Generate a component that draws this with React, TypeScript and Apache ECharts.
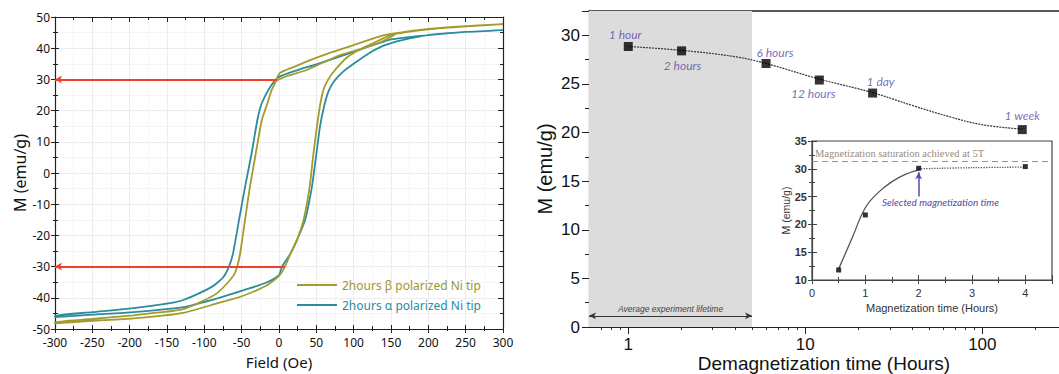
import { useEffect, useRef } from 'react';
import * as echarts from 'echarts';

// ---------- Left panel: hysteresis loops (Field Oe, M emu/g) ----------
const alphaName = '2hours \u03b1 polarized Ni tip';
const betaName = '2hours \u03b2 polarized Ni tip';

const tealDown: number[][] = [
  [300, 45.8], [250, 45.2], [200, 44.2], [150, 42.8], [100, 38.8], [50, 34.8], [25, 33], [0, 30.8],
  [-10, 28.2], [-20, 24], [-25, 21], [-29, 17], [-36.6, 6.4], [-45.5, -4.5], [-53.5, -15], [-61.5, -25.7],
  [-67, -30], [-75, -33.5], [-90, -36.5], [-128, -40.7], [-146, -41.7], [-195, -43.3], [-250, -44.6], [-300, -45.8],
];
const tealUp: number[][] = [
  [-300, -46.2], [-250, -45.4], [-195, -44.6], [-128, -43], [-80, -40], [-40, -37], [-16, -35], [0, -32.7], [4, -30],
  [15, -26], [24, -21.5], [35, -15], [44, -4.5], [50, 6], [55, 15], [60, 21], [66, 26], [74, 29.5],
  [86, 32.5], [100, 35], [120, 38.3], [140, 40.8], [165, 42.6], [200, 44.2], [250, 45.2], [300, 45.8],
];
const oliveDown: number[][] = [
  [300, 47.7], [250, 47.1], [200, 46.2], [150, 44.6], [135, 43.8], [100, 41], [68, 38.5], [40, 36],
  [20, 34], [1, 32], [-5, 29], [-10, 26.5], [-16, 22], [-23, 17], [-31, 6.4], [-39, -4.5], [-45.5, -15],
  [-52, -25.7], [-56, -30], [-60, -32.5], [-70, -35.5], [-83, -38.5], [-100, -40.8], [-128, -43.6],
  [-160, -44.7], [-195, -45.6], [-250, -46.8], [-300, -47.8],
];
const oliveUp: number[][] = [
  [-300, -48.2], [-250, -47.4], [-195, -46.6], [-128, -44.8], [-83, -41.8], [-50, -39.5], [-16, -36],
  [0, -33], [8, -30], [15, -26], [24, -21.5], [33, -15], [41, -4.5], [46, 6], [52, 17], [56, 23], [60, 27],
  [66, 30], [75, 33], [91, 37], [110, 39.8], [126, 41.6], [150, 44.2], [200, 46], [250, 47], [300, 47.7],
];
const oliveExtra: number[][] = [
  [-4, 29.5], [10, 31], [37, 33], [60, 35.5], [82, 37.8], [110, 39.8], [135, 41.8], [155, 44.3],
];
const remanenceM = [30, -30];
const remanenceEndField = [-3, 8];
const fieldMin = -300;
const fieldMax = 300;

// ---------- Right panel: demagnetization ----------
const demagHours = [1, 2, 6, 12, 24, 168];
const demagM = [28.85, 28.4, 27.1, 25.4, 24.06, 20.3];
const demagLabels = ['1 hour', '2 hours', '6 hours', '12 hours', '1 day', '1 week'];
const demagFitHours = [1, 2, 4, 6, 12, 24, 40, 66, 100, 168];
const demagFitM = [28.85, 28.45, 27.8, 27.1, 25.5, 24.1, 22.8, 21.6, 20.8, 20.35];
const demagTicks = [1, 10, 100];
const demagMinorTicks = [0.7, 0.8, 0.9, 2, 3, 4, 5, 6, 7, 8, 9, 20, 30, 40, 50, 60, 70, 80, 90, 200];
const lifetimeStart = 0.6;
const lifetimeEnd = 5;
const lifetimeM = 1.15;
const lifetimeText = 'Average experiment lifetime';

// ---------- Inset: magnetization ----------
const magHours = [0.5, 1, 2, 4];
const magM = [11.8, 21.7, 30.1, 30.4];
const magFitHours = [0.5, 0.75, 1, 1.25, 1.5, 1.75, 2];
const magFitM = [12, 17.5, 23, 25.8, 27.7, 29, 29.8];
const magPlateauHours = [2, 3, 4];
const magPlateauM = [30, 30.2, 30.3];
const saturationM = 31.3;
const saturationText = 'Magnetization saturation achieved at 5T';
const selectedTime = 2;
const selectedArrowM = [25, 29.4];
const selectedText = 'Selected magnetization time';

// label placement (style only)
const labelPlacement: any[] = [
  { position: 'top', offset: [-3, 3] },
  { position: 'bottom', offset: [1, 0] },
  { position: 'top', offset: [9, 3] },
  { position: 'bottom', offset: [-6, -1] },
  { position: 'top', offset: [8, 3] },
  { position: 'top', offset: [0, 0] },
];

const TEAL = '#2b8c9e';
const OLIVE = '#a39b2b';
const RED = '#f0402a';
const PURPLE = '#5a46a6';

const zip = (a: number[], b: number[]) => a.map((v, i) => [v, b[i]]);

export default function App() {
  const ref = useRef<HTMLDivElement>(null);
  useEffect(() => {
    document.body.style.margin = '0';
    const chart = echarts.init(ref.current!, undefined, { renderer: 'svg' });
    const leftFont = { fontFamily: 'Noto Sans', color: '#111' };
    const arial = { fontFamily: 'Liberation Sans', color: '#111' };
    const axisLine = { show: true, onZero: false, lineStyle: { color: '#222', width: 1.2 } };
    const noLine = { show: false, onZero: false };
    const gb = { outerBoundsMode: 'none', containLabel: false };
    const g0 = { ...gb, left: 55, top: 17, width: 448, height: 312 };
    const g2 = { ...gb, left: 589, top: 11, right: 0, bottom: 47 };
    const g4 = { ...gb, left: 812, top: 141, width: 240, height: 139 };

    const option: any = {
      animation: false,
      backgroundColor: '#fff',
      grid: [
        { ...g0 },
        { ...g0 },
        { ...g2 },
        { ...g2 },
        { ...g4, show: true, backgroundColor: '#fff', borderColor: '#444', borderWidth: 1.2 },
        { ...g4 },
      ],
      legend: {
        left: 297, top: 279, orient: 'vertical', itemGap: 8, itemWidth: 40, itemHeight: 2, icon: 'rect', padding: 0,
        data: [
          { name: betaName, textStyle: { color: '#9c962a' } },
          { name: alphaName, textStyle: { color: TEAL } },
        ],
        textStyle: { fontFamily: 'Noto Sans', fontSize: 12 },
      },
      xAxis: [
        {
          gridIndex: 0, type: 'value', position: 'bottom', min: fieldMin, max: fieldMax, interval: 50,
          name: 'Field (Oe)', nameLocation: 'middle', nameGap: 25, nameMoveOverlap: false,
          nameTextStyle: { ...leftFont, fontSize: 15 },
          axisLine, axisTick: { show: true, length: 4, inside: false, lineStyle: { color: '#222' } },
          minorTick: { show: true, splitNumber: 2, length: 2, lineStyle: { color: '#222' } },
          axisLabel: { ...leftFont, fontSize: 12, margin: 7, lineHeight: 13 },
          splitLine: { show: true, lineStyle: { color: '#ececec' } },
          minorSplitLine: { show: true, lineStyle: { color: '#f5f5f5' } },
        },
        {
          gridIndex: 0, type: 'value', position: 'top', min: fieldMin, max: fieldMax, interval: 50,
          axisLine, axisTick: { show: true, inside: true, length: 5, lineStyle: { color: '#222' } },
          minorTick: { show: true, splitNumber: 2, length: 3, lineStyle: { color: '#222' } },
          axisLabel: { show: false }, splitLine: { show: false },
        },
        {
          gridIndex: 1, type: 'value', position: 'bottom', min: fieldMin, max: fieldMax, interval: 50,
          axisLine: noLine, axisTick: { show: true, inside: true, length: 4, lineStyle: { color: '#222' } },
          minorTick: { show: true, splitNumber: 2, length: 3, lineStyle: { color: '#222' } },
          axisLabel: { show: false }, splitLine: { show: false },
        },
        {
          gridIndex: 2, type: 'log', position: 'bottom', min: lifetimeStart, max: 271,
          name: 'Demagnetization time (Hours)', nameLocation: 'middle', nameGap: 27, nameMoveOverlap: false,
          nameTextStyle: { ...arial, fontSize: 19 },
          axisLine, axisTick: { show: true, length: 7, customValues: demagTicks, lineStyle: { color: '#222' } },
          axisLabel: { ...arial, fontSize: 17, margin: 9, customValues: demagTicks },
          splitLine: { show: false },
        },
        {
          gridIndex: 2, type: 'log', position: 'top', min: lifetimeStart, max: 271,
          axisLine: { show: true, onZero: false, lineStyle: { color: '#222', width: 1.5 } },
          axisTick: { show: false }, axisLabel: { show: false }, splitLine: { show: false },
        },
        {
          gridIndex: 3, type: 'log', position: 'bottom', min: lifetimeStart, max: 271,
          axisLine: noLine,
          axisTick: { show: true, length: 3, customValues: demagMinorTicks, lineStyle: { color: '#333' } },
          axisLabel: { show: false }, splitLine: { show: false },
        },
        {
          gridIndex: 4, type: 'value', position: 'bottom', min: 0, max: 4.5, interval: 1,
          name: 'Magnetization time (Hours)', nameLocation: 'middle', nameGap: 22, nameMoveOverlap: false,
          nameTextStyle: { ...arial, fontSize: 11, color: '#333' },
          axisLine: { show: true, onZero: false, lineStyle: { color: '#444', width: 1.2 } },
          axisTick: { show: true, length: 4, lineStyle: { color: '#444' } },
          minorTick: { show: true, splitNumber: 2, length: 3, lineStyle: { color: '#444' } },
          axisLabel: { ...arial, fontSize: 11, color: '#333', margin: 7,
            formatter: (v: number) => (Number.isInteger(v) ? String(v) : '') },
          splitLine: { show: false },
        },
        {
          gridIndex: 5, type: 'value', position: 'bottom', min: 0, max: 4.5, interval: 1,
          axisLine: noLine,
          axisTick: { show: true, inside: true, length: 5, lineStyle: { color: '#444' } },
          minorTick: { show: true, splitNumber: 2, length: 3, lineStyle: { color: '#444' } },
          axisLabel: { show: false }, splitLine: { show: false },
        },
      ],
      yAxis: [
        {
          gridIndex: 0, type: 'value', position: 'left', min: -50, max: 50, interval: 10,
          name: 'M (emu/g)', nameLocation: 'middle', nameGap: 27, nameMoveOverlap: false,
          nameTextStyle: { ...leftFont, fontSize: 16 },
          axisLine, axisTick: { show: true, length: 4, lineStyle: { color: '#222' } },
          minorTick: { show: true, splitNumber: 2, length: 2, lineStyle: { color: '#222' } },
          axisLabel: { ...leftFont, fontSize: 12, margin: 5, lineHeight: 12 },
          splitLine: { show: true, lineStyle: { color: '#ececec' } },
          minorSplitLine: { show: true, lineStyle: { color: '#f5f5f5' } },
        },
        {
          gridIndex: 0, type: 'value', position: 'right', min: -50, max: 50, interval: 10,
          axisLine, axisTick: { show: true, inside: true, length: 5, lineStyle: { color: '#222' } },
          minorTick: { show: true, splitNumber: 2, length: 3, lineStyle: { color: '#222' } },
          axisLabel: { show: false }, splitLine: { show: false },
        },
        {
          gridIndex: 1, type: 'value', position: 'left', min: -50, max: 50, interval: 10,
          axisLine: noLine, axisTick: { show: true, inside: true, length: 4, lineStyle: { color: '#222' } },
          minorTick: { show: true, splitNumber: 2, length: 3, lineStyle: { color: '#222' } },
          axisLabel: { show: false }, splitLine: { show: false },
        },
        {
          gridIndex: 2, type: 'value', position: 'left', min: 0, max: 32.5, interval: 5,
          name: 'M (emu/g)', nameLocation: 'middle', nameGap: 34, nameMoveOverlap: false,
          nameTextStyle: { ...arial, fontSize: 20 },
          axisLine, axisTick: { show: true, length: 7, lineStyle: { color: '#222' } },
          minorTick: { show: true, splitNumber: 2, length: 4, lineStyle: { color: '#222' } },
          axisLabel: { ...arial, fontSize: 17, margin: 9,
            formatter: (v: number) => (v % 5 === 0 ? String(v) : '') },
          splitLine: { show: false },
        },
        {
          gridIndex: 3, type: 'value', position: 'left', min: 0, max: 32.5, interval: 5,
          axisLine: noLine, axisTick: { show: true, inside: true, length: 5, lineStyle: { color: '#222' } },
          minorTick: { show: true, splitNumber: 2, length: 4, lineStyle: { color: '#222' } },
          axisLabel: { show: false }, splitLine: { show: false },
        },
        {
          gridIndex: 4, type: 'value', position: 'left', min: 10, max: 35, interval: 5,
          name: 'M (emu/g)', nameLocation: 'middle', nameGap: 21, nameMoveOverlap: false,
          nameTextStyle: { ...arial, fontSize: 10.5, color: '#333' },
          axisLine: { show: true, onZero: false, lineStyle: { color: '#444', width: 1.2 } },
          axisTick: { show: true, length: 4, lineStyle: { color: '#444' } },
          minorTick: { show: true, splitNumber: 2, length: 3, lineStyle: { color: '#444' } },
          axisLabel: { ...arial, fontSize: 11, color: '#333', fontWeight: 'bold', margin: 5 },
          splitLine: { show: false },
        },
        {
          gridIndex: 5, type: 'value', position: 'left', min: 10, max: 35, interval: 5,
          axisLine: noLine, axisTick: { show: true, inside: true, length: 5, lineStyle: { color: '#444' } },
          minorTick: { show: true, splitNumber: 2, length: 3, lineStyle: { color: '#444' } },
          axisLabel: { show: false }, splitLine: { show: false },
        },
      ],
      series: [
        {
          name: alphaName, type: 'line', xAxisIndex: 0, yAxisIndex: 0, data: tealDown.concat(tealUp),
          symbol: 'none', smooth: 0.2, color: TEAL, lineStyle: { color: TEAL, width: 1.8 }, z: 3,
          markLine: {
            silent: true, symbol: ['arrow', 'none'], symbolSize: [6, 7],
            lineStyle: { color: RED, width: 2, type: 'solid' }, label: { show: false },
            data: remanenceM.map((m, i) => [{ coord: [fieldMin, m] }, { coord: [remanenceEndField[i], m] }]),
          },
        },
        {
          name: betaName, type: 'line', xAxisIndex: 0, yAxisIndex: 0, data: oliveDown.concat(oliveUp),
          symbol: 'none', smooth: 0.2, color: OLIVE, lineStyle: { color: OLIVE, width: 1.8 }, z: 4,
        },
        {
          name: 'beta-extra', type: 'line', xAxisIndex: 0, yAxisIndex: 0, data: oliveExtra,
          symbol: 'none', smooth: 0.3, color: OLIVE, lineStyle: { color: OLIVE, width: 1.6 }, z: 4,
        },
        {
          name: 'demag-fit', type: 'line', xAxisIndex: 3, yAxisIndex: 3, data: zip(demagFitHours, demagFitM),
          symbol: 'none', smooth: 0.4, lineStyle: { color: '#333', width: 1.2, type: [2, 1] }, z: 2,
          markArea: {
            silent: true, itemStyle: { color: '#dcdcdc' },
            data: [[{ xAxis: lifetimeStart }, { xAxis: lifetimeEnd }]],
          },
        },
        {
          name: 'demag-points', type: 'scatter', xAxisIndex: 3, yAxisIndex: 3,
          symbol: 'rect', symbolSize: 9, itemStyle: { color: '#000' }, z: 5,
          data: demagHours.map((h, i) => ({ value: [h, demagM[i]], name: demagLabels[i], label: labelPlacement[i] })),
          label: {
            show: true, formatter: (p: any) => p.name, fontFamily: 'Lato', fontStyle: 'italic',
            fontSize: 12, color: PURPLE, distance: 4,
          },
          markLine: {
            silent: true, symbol: ['arrow', 'arrow'], symbolSize: [5, 7],
            lineStyle: { color: '#333', width: 1.2, type: 'solid' },
            label: {
              show: true, position: 'insideMiddleTop', distance: 2, formatter: lifetimeText,
              fontFamily: 'Liberation Sans', fontStyle: 'italic', fontSize: 8.5, color: '#444',
            },
            data: [[{ coord: [lifetimeStart, lifetimeM] }, { coord: [lifetimeEnd, lifetimeM] }]],
          },
        },
        {
          name: 'mag-fit', type: 'line', xAxisIndex: 6, yAxisIndex: 5, data: zip(magFitHours, magFitM),
          symbol: 'none', smooth: 0.4, lineStyle: { color: '#555', width: 1.3 }, z: 6,
        },
        {
          name: 'mag-plateau', type: 'line', xAxisIndex: 6, yAxisIndex: 5, data: zip(magPlateauHours, magPlateauM),
          symbol: 'none', smooth: 0.4, lineStyle: { color: '#555', width: 1.3, type: 'dotted' }, z: 6,
        },
        {
          name: 'mag-points', type: 'scatter', xAxisIndex: 6, yAxisIndex: 5, data: zip(magHours, magM),
          symbol: 'rect', symbolSize: 5, itemStyle: { color: '#000' }, z: 7,
          markLine: {
            silent: true, symbol: ['none', 'none'],
            data: [
              {
                yAxis: saturationM,
                lineStyle: { color: '#a39080', width: 1.2, type: [6, 4] },
                label: {
                  show: true, position: 'insideStartTop', distance: 3, formatter: saturationText,
                  fontFamily: 'Liberation Serif', fontSize: 10.5, color: '#9b8b7b',
                },
              },
              [
                { coord: [selectedTime, selectedArrowM[0]], symbol: 'none' },
                {
                  coord: [selectedTime, selectedArrowM[1]], symbol: 'arrow', symbolSize: [5, 7],
                  lineStyle: { color: PURPLE, width: 1.5, type: 'solid' }, label: { show: false },
                },
              ],
            ],
          },
        },
      ],
      graphic: [
        {
          type: 'text', left: 882, top: 197,
          style: {
            text: selectedText, fontFamily: 'Lato', fontStyle: 'italic', fontSize: 10, fill: PURPLE,
          },
        },
      ],
    };
    chart.setOption(option);
    return () => chart.dispose();
  }, []);
  return <div ref={ref} style={{ width: 1059, height: 374 }} />;
}
